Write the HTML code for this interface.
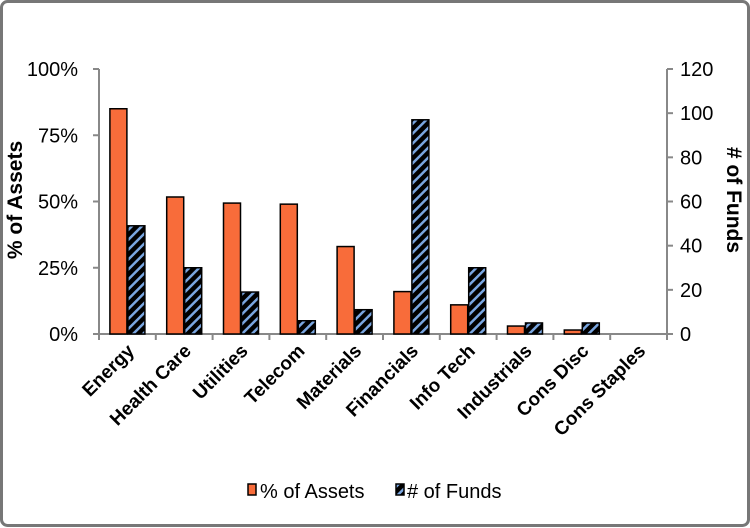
<!DOCTYPE html>
<html><head><meta charset="utf-8"><style>
body{margin:0;background:#fff;}
svg{display:block;font-family:"Liberation Sans",Arial,sans-serif;}
</style></head><body>
<svg width="750" height="528" viewBox="0 0 750 528" id="chart">
<defs>
<pattern id="hatch" patternUnits="userSpaceOnUse" width="7" height="7" patternTransform="rotate(45)">
<rect width="7" height="7" fill="#000"/>
<rect x="0" y="0" width="2.5" height="7" fill="#7aa6e0"/>
</pattern>
</defs>
<rect x="1.5" y="1.5" width="747" height="524" rx="6" fill="#fff" stroke="#777" stroke-width="3"/>
<g id="axes"></g>
<g id="bars"></g>
<g id="labels"></g>
<text x="22" y="200" transform="rotate(-90 22 200)" text-anchor="middle" font-size="21" font-weight="bold">% of Assets</text>
<text x="727" y="200" transform="rotate(90 727 200)" text-anchor="middle" font-size="21" font-weight="bold"># of Funds</text>
<g>
<g>
<rect x="248" y="484" width="8" height="11" fill="#f86c3a" stroke="#000" stroke-width="1.5"/>
<text x="260" y="498" font-size="20">% of Assets</text>
</g>
<g>
<rect x="396" y="484" width="8" height="11" fill="url(#hatch)" stroke="#000" stroke-width="1.5"/>
<text x="407" y="498" font-size="20"># of Funds</text>
</g>
</g>
</svg>
<script>
const categories=["Energy","Health Care","Utilities","Telecom","Materials","Financials","Info Tech","Industrials","Cons Disc","Cons Staples"];
const assetPct=[85,51.7,49.4,49,33,16,11,3,1.5,0];
const fundCount=[49,30,19,6,11,97,30,5,5,0];
const leftTicks=["0%","25%","50%","75%","100%"];
const rightTicks=[0,20,40,60,80,100,120];
const NS="http://www.w3.org/2000/svg";
const X0=99,X1=667,Y0=334,Y1=69;
const bw=(X1-X0)/categories.length;
const yL=v=>Y0-(v/100)*(Y0-Y1);
const yR=v=>Y0-(v/120)*(Y0-Y1);
function mk(tag,attrs,parent){const e=document.createElementNS(NS,tag);for(const k in attrs)e.setAttribute(k,attrs[k]);parent.appendChild(e);return e;}
const axes=document.getElementById('axes'),bars=document.getElementById('bars'),labels=document.getElementById('labels');
let a=mk('line',{x1:X0,y1:Y1,x2:X0,y2:Y0,stroke:'#888','stroke-width':2},axes);


a=mk('line',{x1:X1,y1:Y1,x2:X1,y2:Y0,stroke:'#888','stroke-width':2},axes);


a=mk('line',{x1:X0,y1:Y0,x2:X1,y2:Y0,stroke:'#888','stroke-width':2},axes);


leftTicks.forEach((t,i)=>{const y=yL(i*25);
mk('line',{x1:X0-6,y1:y,x2:X0,y2:y,stroke:'#888','stroke-width':2},axes);
const tx=mk('text',{x:X0-21,y:y+7,'text-anchor':'end','font-size':20},axes);tx.textContent=t;

});
rightTicks.forEach(t=>{const y=yR(t);
mk('line',{x1:X1,y1:y,x2:X1+6,y2:y,stroke:'#888','stroke-width':2},axes);
const tx=mk('text',{x:X1+13,y:y+7,'text-anchor':'start','font-size':20},axes);tx.textContent=t;

});
for(let i=0;i<=categories.length;i++){const x=X0+i*bw;mk('line',{x1:x,y1:Y0,x2:x,y2:Y0+6,stroke:'#888','stroke-width':2},axes);}
categories.forEach((c,i)=>{const cx=X0+(i+0.5)*bw;const w=17;
const r1=mk('rect',{x:cx-w-0.5,y:yL(assetPct[i]),width:w,height:Y0-yL(assetPct[i]),fill:'#f86c3a',stroke:'#000','stroke-width':1.5},bars);


const r2=mk('rect',{x:cx+0.5,y:yR(fundCount[i]),width:w,height:Y0-yR(fundCount[i]),fill:'url(#hatch)',stroke:'#000','stroke-width':1.5},bars);


const lx=cx+8,ly=352;
const t=mk('text',{x:lx,y:ly,'text-anchor':'end','font-size':19,'font-weight':'bold',transform:`rotate(-45 ${lx} ${ly})`},labels);t.textContent=c;

});
</script>
</body></html>
